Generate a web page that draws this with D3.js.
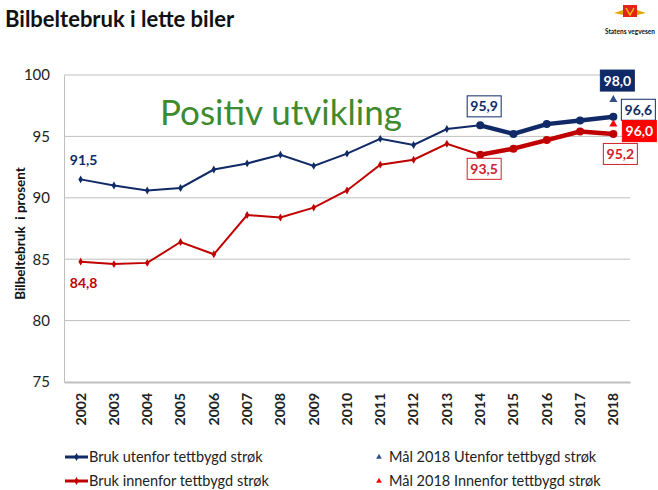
<!DOCTYPE html>
<html>
<head>
<meta charset="utf-8">
<script src="https://cdn.jsdelivr.net/npm/d3@7"></script>
<style>
  body { margin: 0; background: #fff; }
  svg { display: block; font-family: Lato, "Open Sans", sans-serif; }
</style>
</head>
<body>
<div id="chart"></div>
<script>
// data
const years = [2002, 2003, 2004, 2005, 2006, 2007, 2008, 2009, 2010, 2011, 2012, 2013, 2014, 2015, 2016, 2017, 2018];
const utenfor = [91.5, 91.0, 90.6, 90.8, 92.3, 92.8, 93.5, 92.6, 93.6, 94.8, 94.3, 95.6, 95.9, 95.2, 96.0, 96.3, 96.6];
const innenfor = [84.8, 84.6, 84.7, 86.4, 85.4, 88.6, 88.4, 89.2, 90.6, 92.7, 93.1, 94.4, 93.5, 94.0, 94.7, 95.4, 95.2];
const maalYear = 2018;
const maalUtenfor = 98.0;
const maalInnenfor = 96.0;
const yTicks = [75, 80, 85, 90, 95, 100];
const thickFrom = 2014;

const W = 658, H = 490;
const m = { left: 64, right: 28, top: 75, bottom: 108 };

const navy = '#0f2a66';
const red = '#c00000';
const fmt = v => d3.format('.1f')(v).replace('.', ',');

const svg = d3.select('#chart').append('svg').attr('width', W).attr('height', H);

const x = d3.scaleBand().domain(years).range([m.left, W - m.right]);
const y = d3.scaleLinear().domain([75, 100]).range([H - m.bottom, m.top]);
const cx = d => x(d) + x.bandwidth() / 2;

// header
svg.append('text').attr('x', 5).attr('y', 27).attr('font-size', 22).attr('font-weight', 700)
  .attr('fill', '#111').text('Bilbeltebruk i lette biler');

// logo
const logo = svg.append('g').attr('transform', 'translate(630,11)');
logo.append('path').attr('d', 'M-16,2 L-7,-1 L-7,4 Z M16,2 L7,-1 L7,4 Z').attr('fill', '#e0a800');
logo.append('rect').attr('x', -7).attr('y', -6).attr('width', 14).attr('height', 12).attr('fill', '#e2231a');
logo.append('path').attr('d', 'M-4,-3 L0,4 L4,-3').attr('fill', 'none').attr('stroke', '#f2c200').attr('stroke-width', 1.5);
svg.append('text').attr('x', 630).attr('y', 34).attr('text-anchor', 'middle').attr('font-size', 6.5)
  .attr('font-weight', 700).attr('fill', '#111').text('Statens vegvesen');

// grid
svg.append('g').selectAll('line').data(yTicks.slice(1)).join('line')
  .attr('x1', m.left).attr('x2', W - m.right)
  .attr('y1', d => y(d)).attr('y2', d => y(d))
  .attr('stroke', '#bfbfbf').attr('stroke-width', 1);

// axes
const yAxis = svg.append('g').attr('transform', `translate(${m.left},0)`)
  .call(d3.axisLeft(y).tickValues(yTicks).tickSize(0).tickPadding(14));
yAxis.select('.domain').attr('stroke', '#bfbfbf');
yAxis.selectAll('text').attr('font-size', 15).attr('fill', '#222').attr('font-family', 'Lato, sans-serif');

const xAxis = svg.append('g').attr('transform', `translate(0,${H - m.bottom})`)
  .call(d3.axisBottom(x).tickSize(0).tickFormat(d3.format('d')));
xAxis.select('.domain').attr('stroke', '#bfbfbf').attr('stroke-width', 2);
xAxis.selectAll('text')
  .attr('transform', 'rotate(-90)')
  .attr('text-anchor', 'end').attr('dx', -11).attr('dy', '0.35em').attr('x', 0).attr('y', 0)
  .attr('font-size', 14).attr('font-weight', 700).attr('fill', '#222').attr('font-family', 'Lato, sans-serif');

// y label
svg.append('text').attr('transform', `translate(25,${(y(75) + y(100)) / 2 + 5}) rotate(-90)`)
  .attr('text-anchor', 'middle').attr('font-size', 13.5).attr('font-weight', 700).attr('fill', '#111')
  .attr('xml:space', 'preserve').text('Bilbeltebruk  i prosent');

// annotation
svg.append('text').attr('x', 160).attr('y', 125).attr('font-size', 35).attr('fill', '#3e8a2e')
  .text('Positiv utvikling');

// series
const series = [
  { name: 'Bruk utenfor tettbygd strøk', vals: utenfor, color: navy },
  { name: 'Bruk innenfor tettbygd strøk', vals: innenfor, color: red }
];
const line = d3.line().x(d => cx(d.year)).y(d => y(d.v));

series.forEach(s => {
  const pts = years.map((yr, i) => ({ year: yr, v: s.vals[i] }));
  const thin = pts.filter(p => p.year <= thickFrom);
  const thick = pts.filter(p => p.year >= thickFrom);
  svg.append('path').datum(thin).attr('d', line).attr('fill', 'none')
    .attr('stroke', s.color).attr('stroke-width', 2);
  svg.append('path').datum(thick).attr('d', line).attr('fill', 'none')
    .attr('stroke', s.color).attr('stroke-width', 4.5).attr('stroke-linejoin', 'round');
  svg.append('g').selectAll('path').data(thin.filter(p => p.year < thickFrom)).join('path')
    .attr('transform', p => `translate(${cx(p.year)},${y(p.v)})`)
    .attr('d', d3.symbol(d3.symbolDiamond, 18)).attr('fill', s.color);
  svg.append('g').selectAll('circle').data(thick).join('circle')
    .attr('cx', p => cx(p.year)).attr('cy', p => y(p.v)).attr('r', 4).attr('fill', s.color);
});

// goal triangles
[[maalUtenfor, '#2f4f86'], [maalInnenfor, '#ff0000']].forEach(([v, c]) => {
  svg.append('path').attr('transform', `translate(${cx(maalYear)},${y(v)})`)
    .attr('d', d3.symbol(d3.symbolTriangle, 28)).attr('fill', c);
});

// value labels
function label(xc, yc, text, color, opts = {}) {
  const g = svg.append('g');
  g.append('text').attr('x', xc).attr('y', yc).attr('text-anchor', 'middle')
    .attr('dy', '0.36em').attr('font-size', 14).attr('font-weight', 700)
    .attr('fill', opts.fill ? '#fff' : color).text(text);
  if (opts.box || opts.fill) {
    const w = 34, h = 21;
    g.insert('rect', 'text').attr('x', xc - w / 2).attr('y', yc - h / 2).attr('width', w).attr('height', h)
      .attr('fill', opts.fill ? color : '#fff').attr('stroke', color).attr('stroke-width', 1);
  }
}
const last = years.length - 1;
const i14 = years.indexOf(2014);
label(cx(years[0]) + 3, y(utenfor[0]) - 19, fmt(utenfor[0]), navy);
label(cx(years[0]) + 3, y(innenfor[0]) + 21, fmt(innenfor[0]), red);
label(cx(2014) + 4, y(utenfor[i14]) - 19, fmt(utenfor[i14]), navy, { box: true });
label(cx(2014) + 4, y(innenfor[i14]) + 14, fmt(innenfor[i14]), '#d0202a', { box: true });
label(cx(maalYear) + 25, y(utenfor[last]) - 7, fmt(utenfor[last]), navy, { box: true });
label(cx(maalYear) + 7, y(innenfor[last]) + 20, fmt(innenfor[last]), '#d0202a', { box: true });
label(cx(maalYear) + 4, y(maalUtenfor) - 19, fmt(maalUtenfor), '#0f2a66', { fill: true });
label(cx(maalYear) + 26, y(maalInnenfor) + 7, fmt(maalInnenfor), '#ff0000', { fill: true });

// legend
const leg = svg.append('g').attr('font-size', 14.5).attr('fill', '#222');
series.forEach((s, i) => {
  const ly = 457 + i * 24;
  leg.append('line').attr('x1', 65).attr('x2', 88).attr('y1', ly).attr('y2', ly)
    .attr('stroke', s.color).attr('stroke-width', 3);
  leg.append('path').attr('transform', `translate(76.5,${ly})`).attr('d', d3.symbol(d3.symbolDiamond, 18)).attr('fill', s.color);
  leg.append('text').attr('x', 89).attr('y', ly).attr('dy', '0.35em').text(s.name);
});
[['Mål 2018 Utenfor tettbygd strøk', '#2f4f86'], ['Mål 2018 Innenfor tettbygd strøk', '#ff0000']].forEach(([t, c], i) => {
  const ly = 457 + i * 24;
  leg.append('path').attr('transform', `translate(379,${ly})`).attr('d', d3.symbol(d3.symbolTriangle, 14)).attr('fill', c);
  leg.append('text').attr('x', 389).attr('y', ly).attr('dy', '0.35em').text(t);
});
</script>
</body>
</html>
